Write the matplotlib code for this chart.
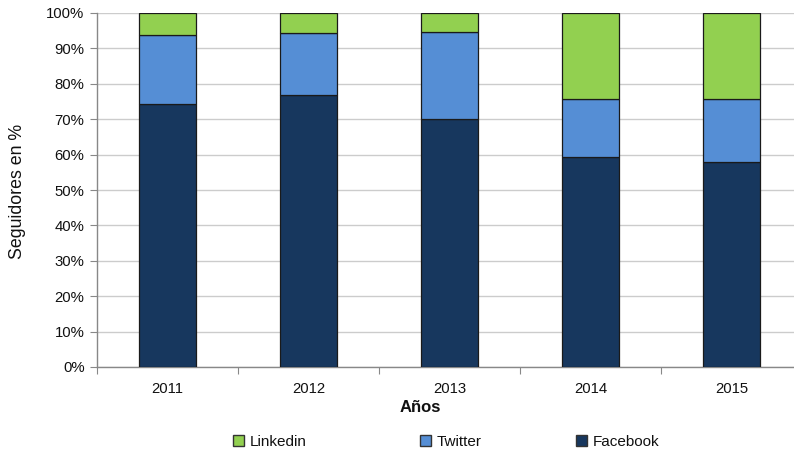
import matplotlib
matplotlib.use("Agg")
import matplotlib.pyplot as plt
from matplotlib.patches import Patch
from matplotlib.ticker import FixedLocator, PercentFormatter

plt.rcParams['font.family'] = ['Liberation Sans', 'DejaVu Sans']

years = ["2011", "2012", "2013", "2014", "2015"]
facebook = [74.4, 76.8, 70.0, 59.2, 58.0]
twitter = [19.3, 17.6, 24.7, 16.4, 17.8]
linkedin = [6.3, 5.6, 5.3, 24.4, 24.2]

series = [("Facebook", facebook, "#17375E"),
          ("Twitter", twitter, "#558ED5"),
          ("Linkedin", linkedin, "#92D050")]

W, H = 794, 454
fig = plt.figure(figsize=(W / 100, H / 100), dpi=100)
ax = fig.add_axes([97 / W, 1 - 367 / H, (802 - 97) / W, (367 - 13) / H])

x = list(range(len(years)))
bottom = [0.0] * len(years)
for name, vals, col in series:
    ax.bar(x, vals, width=0.4, bottom=bottom, color=col, edgecolor="#1a1a1a",
           linewidth=0.9, zorder=3)
    bottom = [b + v for b, v in zip(bottom, vals)]

ax.set_xlim(-0.5, len(years) - 0.5)
ax.set_ylim(0, 100)
ax.yaxis.set_major_locator(FixedLocator(range(0, 101, 10)))
ax.yaxis.set_major_formatter(PercentFormatter(decimals=0))
ax.grid(axis="y", color="#cccccc", linewidth=1.0, zorder=0)
ax.set_axisbelow(True)

ax.xaxis.set_major_locator(FixedLocator([i - 0.5 for i in range(len(years) + 1)]))
ax.xaxis.set_minor_locator(FixedLocator(x))
ax.set_xticklabels([])
ax.set_xticklabels(years, minor=True)
ax.tick_params(axis="x", which="major", length=5, color="#888888", direction="out")
ax.tick_params(axis="x", which="minor", length=0, pad=11, labelsize=10.7, labelcolor="#111111")
ax.tick_params(axis="y", length=5, color="#888888", direction="out", pad=4,
               labelsize=10.7, labelcolor="#111111")

for s in ["top", "right"]:
    ax.spines[s].set_visible(False)
for s in ["left", "bottom"]:
    ax.spines[s].set_color("#888888")
    ax.spines[s].set_linewidth(1.0)

fig.text(18 / W, 1 - 191 / H, "Seguidores en %", rotation=90, ha="center",
         va="center", fontsize=12.8, color="#111111")
fig.text(420 / W, 1 - 408 / H, "Años", ha="center", va="center",
         fontsize=12, fontweight="bold", color="#111111")

legend_pos = [("Linkedin", "#92D050", 233), ("Twitter", "#558ED5", 420),
              ("Facebook", "#17375E", 576)]
for name, col, px in legend_pos:
    fig.legend(handles=[Patch(facecolor=col, edgecolor="#333333", linewidth=1.0)],
               labels=[name], loc="center left",
               bbox_to_anchor=(px / W, 1 - 442 / H), frameon=False,
               handlelength=0.75, handleheight=0.75, handletextpad=0.35,
               borderpad=0, borderaxespad=0, fontsize=11, labelcolor="#111111")

fig.savefig("out.png", dpi=100)
